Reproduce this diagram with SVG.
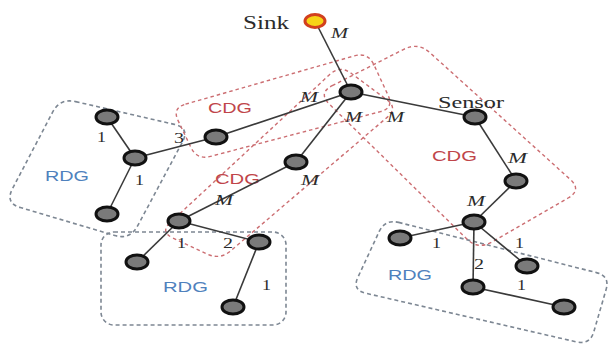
<svg xmlns="http://www.w3.org/2000/svg" width="610" height="347" viewBox="0 0 610 347">
<style>
.rdg{fill:none;stroke:#7d8793;stroke-width:1.6;stroke-dasharray:4 3}
.cdg{fill:none;stroke:#cc6e72;stroke-width:1.4;stroke-dasharray:3.5 3}
.e{stroke:#3a3a3a;stroke-width:1.6;fill:none}
.n{fill:#7a7a7a;stroke:#111;stroke-width:3}
.sink{fill:#f7d417;stroke:#d2401e;stroke-width:3}
.lbl{font-family:"Liberation Serif","DejaVu Serif",serif;fill:#2b2b2b}
.m{font-family:"Liberation Serif","DejaVu Serif",serif;font-style:italic;font-size:15px;fill:#2b2b2b}
.num{font-family:"Liberation Serif","DejaVu Serif",serif;font-size:15px;fill:#2b2b2b}
.tc{font-family:"Liberation Sans","DejaVu Sans",sans-serif;font-size:14px;fill:#c0454a}
.tr{font-family:"Liberation Sans","DejaVu Sans",sans-serif;font-size:14px;fill:#4f81bd}
</style>
<rect width="610" height="347" fill="#ffffff"/>
<g id="groups">
  <g id="rdg-left"><path class="rdg" d="M75.6,101.6 L174.4,124.4 Q190,128 182.4,142.1 L137.6,225.9 Q130,240 114.7,235.5 L20.3,207.5 Q5,203 12.4,188.8 L52.6,112.2 Q60,98 75.6,101.6 Z"/><text class="tr" x="45" y="181" textLength="44" lengthAdjust="spacingAndGlyphs">RDG</text></g>
  <g id="rdg-bottom"><rect class="rdg" x="101" y="232" width="185" height="93" rx="13"/><text class="tr" x="163" y="292" textLength="45" lengthAdjust="spacingAndGlyphs">RDG</text></g>
  <g id="rdg-right"><path class="rdg" d="M398.6,222.4 L596.4,272.6 Q610,276 606.1,289.5 L593.9,331.5 Q590,345 576.4,341.9 L365.6,293.2 Q352,290 357.9,277.3 L379.1,231.7 Q385,219 398.6,222.4 Z"/><text class="tr" x="388" y="280" textLength="44" lengthAdjust="spacingAndGlyphs">RDG</text></g>
  <g id="cdg-top"><path class="cdg" d="M185.5,104.2 L354.5,55.8 Q368,52 373.9,64.7 L388.1,95.3 Q394,108 380.5,111.6 L210.5,156.4 Q197,160 190.9,147.4 L178.1,120.6 Q172,108 185.5,104.2 Z"/><text class="tc" x="208" y="113" textLength="44" lengthAdjust="spacingAndGlyphs">CDG</text></g>
  <g id="cdg-middle"><path class="cdg" d="M170.3,222.5 L329.7,74.5 Q340,65 351.2,73.3 L386.8,99.7 Q398,108 387.4,117.1 L230.6,250.9 Q220,260 207.3,254.1 L172.7,237.9 Q160,232 170.3,222.5 Z"/><text class="tc" x="215" y="184" textLength="45" lengthAdjust="spacingAndGlyphs">CDG</text></g>
  <g id="cdg-right"><path class="cdg" d="M332.2,85.7 L403.8,49.3 Q418,42 429.9,52.7 L570.1,179.3 Q582,190 568.1,198 L491.9,242 Q478,250 466.6,238.8 L329.4,104.2 Q318,93 332.2,85.7 Z"/><text class="tc" x="432" y="161" textLength="45" lengthAdjust="spacingAndGlyphs">CDG</text></g>
</g>
<g id="connectors">
  <line class="e" x1="315" y1="21" x2="351" y2="92"/>
  <line class="e" x1="351" y1="92" x2="216" y2="137"/>
  <line class="e" x1="216" y1="137" x2="135" y2="158"/>
  <line class="e" x1="107" y1="117" x2="135" y2="158"/>
  <line class="e" x1="135" y1="158" x2="107" y2="214"/>
  <line class="e" x1="351" y1="92" x2="296" y2="162"/>
  <line class="e" x1="296" y1="162" x2="179" y2="221"/>
  <line class="e" x1="179" y1="221" x2="137" y2="262"/>
  <line class="e" x1="179" y1="221" x2="259" y2="242"/>
  <line class="e" x1="259" y1="242" x2="233" y2="307"/>
  <line class="e" x1="351" y1="92" x2="475" y2="117"/>
  <line class="e" x1="475" y1="117" x2="516" y2="181"/>
  <line class="e" x1="516" y1="181" x2="474" y2="222"/>
  <line class="e" x1="474" y1="222" x2="400" y2="238"/>
  <line class="e" x1="474" y1="222" x2="527" y2="266"/>
  <line class="e" x1="474" y1="222" x2="473" y2="287"/>
  <line class="e" x1="473" y1="287" x2="564" y2="307"/>
  <text class="m" x="331" y="38" textLength="17" lengthAdjust="spacingAndGlyphs">M</text>
  <text class="m" x="300" y="102" textLength="18" lengthAdjust="spacingAndGlyphs">M</text>
  <text class="m" x="345" y="122" textLength="17" lengthAdjust="spacingAndGlyphs">M</text>
  <text class="m" x="387" y="122" textLength="17" lengthAdjust="spacingAndGlyphs">M</text>
  <text class="m" x="508" y="163" textLength="19" lengthAdjust="spacingAndGlyphs">M</text>
  <text class="m" x="467" y="206" textLength="18" lengthAdjust="spacingAndGlyphs">M</text>
  <text class="m" x="301" y="185" textLength="18" lengthAdjust="spacingAndGlyphs">M</text>
  <text class="m" x="215" y="205" textLength="18" lengthAdjust="spacingAndGlyphs">M</text>
  <text class="num" x="174" y="143" textLength="10" lengthAdjust="spacingAndGlyphs">3</text>
  <text class="num" x="97" y="142" textLength="9" lengthAdjust="spacingAndGlyphs">1</text>
  <text class="num" x="135" y="185" textLength="9" lengthAdjust="spacingAndGlyphs">1</text>
  <text class="num" x="177" y="248" textLength="9" lengthAdjust="spacingAndGlyphs">1</text>
  <text class="num" x="223" y="248" textLength="10" lengthAdjust="spacingAndGlyphs">2</text>
  <text class="num" x="262" y="290" textLength="9" lengthAdjust="spacingAndGlyphs">1</text>
  <text class="num" x="432" y="248" textLength="9" lengthAdjust="spacingAndGlyphs">1</text>
  <text class="num" x="515" y="248" textLength="9" lengthAdjust="spacingAndGlyphs">1</text>
  <text class="num" x="474" y="269" textLength="10" lengthAdjust="spacingAndGlyphs">2</text>
  <text class="num" x="517" y="290" textLength="9" lengthAdjust="spacingAndGlyphs">1</text>
</g>
<g id="nodes">
  <g id="sink"><ellipse class="sink" cx="315" cy="21" rx="10" ry="6.5"/><text class="lbl" x="243" y="29" font-size="18" textLength="46" lengthAdjust="spacingAndGlyphs">Sink</text></g>
  <g id="hub"><ellipse class="n" cx="351" cy="92" rx="11" ry="7"/></g>
  <g id="n-cdg-left"><ellipse class="n" cx="216" cy="137" rx="11" ry="7"/></g>
  <g id="n-mid"><ellipse class="n" cx="296" cy="162" rx="11" ry="7"/></g>
  <g id="n-bl"><ellipse class="n" cx="179" cy="221" rx="11" ry="7"/></g>
  <g id="n-bl-a"><ellipse class="n" cx="137" cy="262" rx="11" ry="7"/></g>
  <g id="n-bl-b"><ellipse class="n" cx="259" cy="242" rx="11" ry="7"/></g>
  <g id="n-bl-c"><ellipse class="n" cx="233" cy="307" rx="11" ry="7"/></g>
  <g id="n-l-top"><ellipse class="n" cx="107" cy="117" rx="11" ry="7"/></g>
  <g id="n-l-mid"><ellipse class="n" cx="135" cy="158" rx="11" ry="7"/></g>
  <g id="n-l-bot"><ellipse class="n" cx="107" cy="214" rx="11" ry="7"/></g>
  <g id="sensor"><ellipse class="n" cx="475" cy="117" rx="11" ry="7"/><text class="lbl" x="438" y="108" font-size="17" textLength="66" lengthAdjust="spacingAndGlyphs">Sensor</text></g>
  <g id="n-r1"><ellipse class="n" cx="516" cy="181" rx="11" ry="7"/></g>
  <g id="n-r2"><ellipse class="n" cx="474" cy="222" rx="11" ry="7"/></g>
  <g id="n-r3"><ellipse class="n" cx="400" cy="238" rx="11" ry="7"/></g>
  <g id="n-r4"><ellipse class="n" cx="527" cy="266" rx="11" ry="7"/></g>
  <g id="n-r5"><ellipse class="n" cx="473" cy="287" rx="11" ry="7"/></g>
  <g id="n-r6"><ellipse class="n" cx="564" cy="307" rx="11" ry="7"/></g>
</g>
</svg>
